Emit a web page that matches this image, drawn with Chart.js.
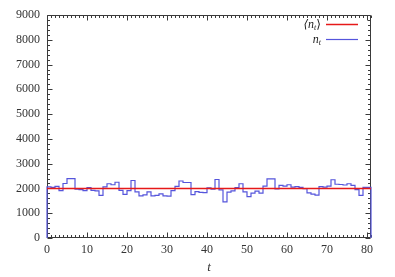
<!DOCTYPE html>
<html>
<head>
<meta charset="utf-8">
<script src="https://cdn.jsdelivr.net/npm/chart.js@4.4.1/dist/chart.umd.min.js"></script>
<style>
  html, body { margin: 0; padding: 0; background: #fff; }
  #wrap { width: 395px; height: 277px; }
</style>
</head>
<body>
<div id="wrap"><canvas id="c"></canvas></div>
<script>
// n_t per time step (each value holds over [t, t+1])
const times = [
   0,  1,  2,  3,  4,  5,  6,  7,  8,  9, 10, 11, 12, 13, 14, 15, 16, 17, 18, 19,
  20, 21, 22, 23, 24, 25, 26, 27, 28, 29, 30, 31, 32, 33, 34, 35, 36, 37, 38, 39,
  40, 41, 42, 43, 44, 45, 46, 47, 48, 49, 50, 51, 52, 53, 54, 55, 56, 57, 58, 59,
  60, 61, 62, 63, 64, 65, 66, 67, 68, 69, 70, 71, 72, 73, 74, 75, 76, 77, 78, 79,
  80
];
const counts = [
  2090, 2060, 2040, 2080, 1910, 2200, 2400, 2400, 1970, 1950,
  1910, 2030, 1920, 1900, 1720, 2060, 2190, 2150, 2250, 1920,
  1760, 1910, 2320, 1860, 1700, 1740, 1860, 1700, 1720, 1780,
  1700, 1690, 1910, 2080, 2300, 2240, 2240, 1750, 1870, 1840,
  1830, 2020, 1970, 2360, 1940, 1460, 1855, 1905, 2030, 2190,
  1860, 1670, 1815, 1890, 1815, 2095, 2385, 2385, 1980, 2125,
  2090, 2150, 2050, 2070, 2040, 1990, 1820, 1770, 1730, 2070,
  2050, 2090, 2350, 2170, 2160, 2140, 2190, 2120, 1950, 1720,
  2040
];
const meanCount = 1995;   // <n_t>
const tEnd = 81;
const xTicks = [0, 10, 20, 30, 40, 50, 60, 70, 80];
const yTicks = [0, 1000, 2000, 3000, 4000, 5000, 6000, 7000, 8000, 9000];

const SERIF = '"Liberation Serif", "DejaVu Serif", serif';
const RED = 'rgb(230,25,25)';
const BLUE = 'rgb(85,85,220)';

// step outline: rises from 0 at t=0, drops back to 0 at the end
const stepPoints = [{ x: times[0], y: 0 }]
  .concat(times.map((t, i) => ({ x: t, y: counts[i] })))
  .concat([{ x: tEnd, y: counts[counts.length - 1] }, { x: tEnd, y: 0 }]);

// gnuplot-like frame with inward ticks on all four sides (under the data)
const framePlugin = {
  id: 'frame',
  beforeDatasetsDraw(chart) {
    const { ctx, chartArea: a, scales: { x, y } } = chart;
    ctx.save();
    ctx.strokeStyle = '#3a3a3a';
    ctx.lineWidth = 1;
    ctx.beginPath();
    const L = Math.round(a.left) + 0.5, R = Math.round(a.right) - 0.5;
    const T = Math.round(a.top) + 0.5, B = Math.round(a.bottom) - 0.5;
    ctx.rect(L, T, R - L, B - T);
    for (let v = 0; v <= tEnd; v += 1) {
      const px = Math.round(x.getPixelForValue(v)) + 0.5;
      const len = v % 10 === 0 ? 5 : 2.5;
      ctx.moveTo(px, B); ctx.lineTo(px, B - len);
      ctx.moveTo(px, T); ctx.lineTo(px, T + len);
    }
    for (let v = 0; v <= 9000; v += 200) {
      const py = Math.round(y.getPixelForValue(v)) + 0.5;
      const len = v % 1000 === 0 ? 5 : 2.5;
      ctx.moveTo(L, py); ctx.lineTo(L + len, py);
      ctx.moveTo(R, py); ctx.lineTo(R - len, py);
    }
    ctx.stroke();
    ctx.restore();
  }
};

// legend: text on the left, line sample on the right
const keyPlugin = {
  id: 'key',
  afterDraw(chart) {
    const { ctx } = chart;
    const textRight = 321, lineL = 326, lineR = 358;
    const rows = [
      { pre: '\u27E8n', sub: 't', post: '\u27E9', color: RED, y: 24.5, w: 1.5 },
      { pre: 'n', sub: 't', post: '', color: BLUE, y: 39.5, w: 1.2 }
    ];
    ctx.save();
    ctx.fillStyle = '#222';
    ctx.textBaseline = 'middle';
    rows.forEach(r => {
      ctx.font = 'italic 12px ' + SERIF;
      const wPre = ctx.measureText(r.pre).width;
      ctx.font = 'italic 8px ' + SERIF;
      const wSub = ctx.measureText(r.sub).width;
      ctx.font = '12px ' + SERIF;
      const wPost = ctx.measureText(r.post).width;
      let cx = textRight - wPre - wSub - wPost;
      ctx.textAlign = 'left';
      ctx.font = 'italic 12px ' + SERIF;
      ctx.fillText(r.pre, cx, r.y);
      cx += wPre;
      ctx.font = 'italic 8px ' + SERIF;
      ctx.fillText(r.sub, cx, r.y + 3);
      cx += wSub;
      ctx.font = '12px ' + SERIF;
      ctx.fillText(r.post, cx, r.y);

      ctx.strokeStyle = r.color;
      ctx.lineWidth = r.w;
      ctx.beginPath();
      ctx.moveTo(lineL, r.y);
      ctx.lineTo(lineR, r.y);
      ctx.stroke();
    });
    ctx.restore();
  }
};

new Chart(document.getElementById('c'), {
  type: 'line',
  data: {
    datasets: [
      {
        label: '<n_t>',
        data: [{ x: 0, y: meanCount }, { x: tEnd, y: meanCount }],
        borderColor: RED,
        borderWidth: 1.5,
        pointRadius: 0,
        order: 0
      },
      {
        label: 'n_t',
        data: stepPoints,
        stepped: 'after',
        borderColor: BLUE,
        borderWidth: 1.2,
        pointRadius: 0,
        clip: 3,
        order: 1
      }
    ]
  },
  options: {
    responsive: true,
    maintainAspectRatio: false,
    animation: false,
    devicePixelRatio: 1,
    layout: { padding: { top: 15, right: 24, left: 0, bottom: 0 } },
    plugins: { legend: { display: false }, tooltip: { enabled: false } },
    scales: {
      x: {
        type: 'linear',
        min: 0,
        max: tEnd,
        afterBuildTicks: s => { s.ticks = xTicks.map(v => ({ value: v })); },
        afterFit: s => { s.height = 39; },
        grid: { display: false, drawTicks: false },
        border: { display: false },
        ticks: {
          color: '#333', padding: 5, maxRotation: 0,
          font: { family: SERIF, size: 12 },
          callback: v => String(v)
        },
        title: {
          display: true, text: 't', color: '#333',
          font: { family: SERIF, size: 13, style: 'italic' },
          padding: { top: 0, bottom: 2 }
        }
      },
      y: {
        type: 'linear',
        min: 0,
        max: 9000,
        afterBuildTicks: s => { s.ticks = yTicks.map(v => ({ value: v })); },
        afterFit: s => { s.width = 47; },
        grid: { display: false, drawTicks: false },
        border: { display: false },
        ticks: {
          color: '#333', padding: 7,
          font: { family: SERIF, size: 12 },
          callback: v => String(v)
        }
      }
    }
  },
  plugins: [framePlugin, keyPlugin]
});
</script>
</body>
</html>
